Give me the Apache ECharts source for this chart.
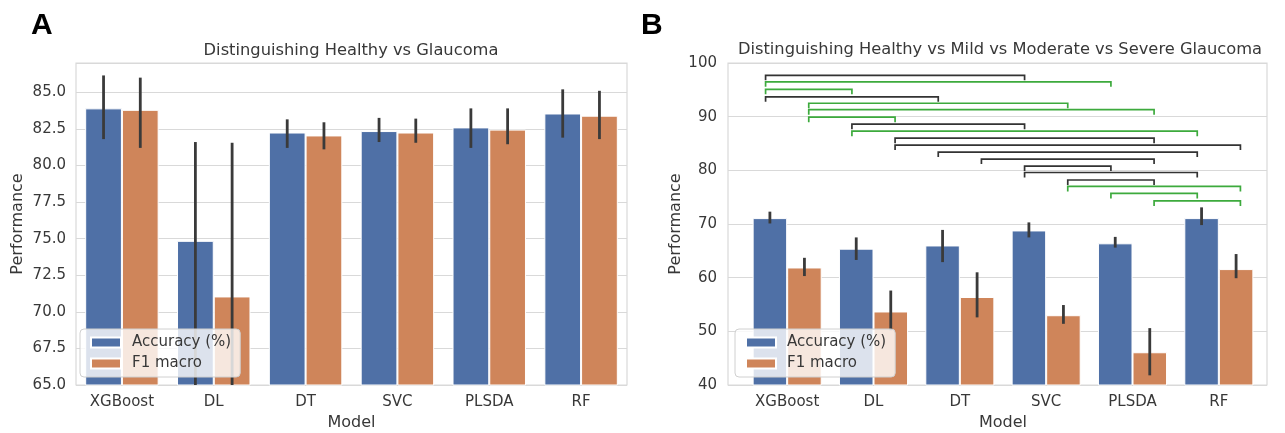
<!DOCTYPE html>
<html><head><meta charset="utf-8">
<script src="https://cdn.jsdelivr.net/npm/echarts@6/dist/echarts.min.js"></script>
<style>html,body{margin:0;padding:0;background:#fff}#c{width:1285px;height:433px}</style>
</head><body><div id="c"></div>
<script>
// ---------- data ----------
const models = ['XGBoost', 'DL', 'DT', 'SVC', 'PLSDA', 'RF'];
const seriesNames = ['Accuracy (%)', 'F1 macro'];

// Panel A: Healthy vs Glaucoma
const aAcc   = [83.9, 74.85, 82.25, 82.35, 82.6, 83.55];
const aAccLo = [81.8, 64.0, 81.2, 81.6, 81.2, 81.9];
const aAccHi = [86.15, 81.6, 83.15, 83.25, 83.9, 85.2];
const aF1    = [83.8, 71.05, 82.05, 82.25, 82.45, 83.4];
const aF1Lo  = [81.2, 64.0, 81.1, 81.55, 81.45, 81.8];
const aF1Hi  = [86.0, 81.55, 82.95, 83.2, 83.9, 85.1];
const aTicks = [65, 67.5, 70, 72.5, 75, 77.5, 80, 82.5, 85];

// Panel B: Healthy vs Mild vs Moderate vs Severe
const bAcc   = [71.1, 65.4, 66.0, 68.8, 66.4, 71.1];
const bAccLo = [70.1, 63.3, 62.9, 67.5, 65.6, 69.8];
const bAccHi = [72.3, 67.5, 68.9, 70.3, 67.6, 73.1];
const bF1    = [61.9, 53.7, 56.4, 53.0, 46.1, 61.6];
const bF1Lo  = [60.3, 50.2, 52.6, 51.4, 41.8, 59.9];
const bF1Hi  = [63.7, 57.6, 61.0, 54.9, 50.6, 64.4];
const bTicks = [40, 50, 60, 70, 80, 90, 100];

// Panel B significance brackets (ends: 2*modelIndex + 0 for Accuracy side, +1 for F1 side)
const bracketFrom  = [0, 0, 0, 0, 1, 1, 1, 2, 2, 3, 3, 4, 5, 6, 6, 7, 7, 8, 9];
const bracketTo    = [6, 8, 2, 4, 7, 9, 3, 6, 10, 9, 11, 10, 9, 8, 10, 9, 11, 10, 11];
const bracketLevel = [97.7, 96.5, 95.1, 93.7, 92.5, 91.3, 89.9, 88.6, 87.3, 86.0, 84.7, 83.4, 82.1, 80.8, 79.6, 78.2, 77.0, 75.7, 74.3];
const bracketKind  = ['k', 'g', 'g', 'k', 'g', 'g', 'g', 'k', 'g', 'k', 'k', 'k', 'k', 'k', 'k', 'k', 'g', 'g', 'g'];

// ---------- styles ----------
const FONT = 'DejaVu Sans';
const BLUE = '#4F70A6', ORANGE = '#CF855A';
const TXT = '#383838';
const GRIDC = '#d9d9d9';

function errRender(sign) {
  return function (params, api) {
    const i = api.value(0);
    const bw = api.size([1, 0])[0];
    const pLo = api.coord([i, api.value(1)]);
    const pHi = api.coord([i, api.value(2)]);
    const cs = params.coordSys;
    const x = pLo[0] + sign * 0.2 * bw;
    const yb = Math.min(pLo[1], cs.y + cs.height);
    return { type: 'line', shape: { x1: x, y1: yb, x2: x, y2: pHi[1] },
      style: { stroke: '#3a3a3a', lineWidth: 2.8 } };
  };
}
function errData(lo, hi) { return models.map((m, i) => [i, lo[i], hi[i]]); }

function bracketRender(params, api) {
  const j = params.dataIndex;
  const bw = api.size([1, 0])[0];
  const endX = k => api.coord([Math.floor(k / 2), 0])[0] + (k % 2 ? 0.25 : -0.25) * bw;
  const y = api.coord([0, bracketLevel[j]])[1];
  const x1 = endX(bracketFrom[j]), x2 = endX(bracketTo[j]);
  const tick = 5;
  return { type: 'polyline',
    shape: { points: [[x1, y + tick], [x1, y], [x2, y], [x2, y + tick]] },
    style: { fill: null, stroke: bracketKind[j] === 'g' ? '#3daa3d' : '#333', lineWidth: 1.7 } };
}

function tickFmt(ticks, dec) {
  return v => ticks.some(t => Math.abs(t - v) < 1e-6) ? v.toFixed(dec) : '';
}

const axisLabelStyle = { fontFamily: FONT, fontSize: 15, color: TXT };
const nameStyle = { fontFamily: FONT, fontSize: 16, color: TXT };

const legendBase = {
  orient: 'vertical', icon: 'rect', itemWidth: 30, itemHeight: 10, itemGap: 6,
  padding: [6, 9, 6, 10], backgroundColor: 'rgba(255,255,255,0.8)',
  borderColor: '#d0d0d0', borderWidth: 1, borderRadius: 4, selectedMode: false,
  textStyle: { fontFamily: FONT, fontSize: 15, color: TXT, padding: [0, 0, 0, 6] },
  data: seriesNames
};

const gridBase = { containLabel: false, outerBoundsMode: 'none' };

const option = {
  animation: false,
  backgroundColor: '#fff',
  grid: [
    Object.assign({ left: 76, right: 1285 - 627, top: 63, bottom: 48, show: true, borderColor: GRIDC, borderWidth: 1.2 }, gridBase),
    Object.assign({ left: 728, right: 18, top: 63, bottom: 48, show: true, borderColor: GRIDC, borderWidth: 1.2 }, gridBase),
    Object.assign({ left: 744, right: 23, top: 63, bottom: 48 }, gridBase)
  ],
  xAxis: [
    { type: 'category', gridIndex: 0, data: models, axisLine: { show: false }, axisTick: { show: false },
      axisLabel: Object.assign({ margin: 10 }, axisLabelStyle),
      name: 'Model', nameLocation: 'middle', nameGap: 30, nameTextStyle: nameStyle },
    { type: 'value', gridIndex: 1, min: 0, max: 1, show: false },
    { type: 'category', gridIndex: 2, data: models, axisLine: { show: false }, axisTick: { show: false },
      axisLabel: Object.assign({ margin: 10 }, axisLabelStyle),
      name: 'Model', nameLocation: 'middle', nameGap: 30, nameTextStyle: nameStyle }
  ],
  yAxis: [
    { type: 'value', gridIndex: 0, min: 65, max: 87, interval: 2.5,
      axisLine: { show: false }, axisTick: { show: false },
      axisLabel: Object.assign({ margin: 10, formatter: tickFmt(aTicks, 1) }, axisLabelStyle),
      splitLine: { lineStyle: { color: GRIDC, width: 1.2 } },
      name: 'Performance', nameLocation: 'middle', nameGap: 50, nameTextStyle: nameStyle },
    { type: 'value', gridIndex: 1, min: 40, max: 100, interval: 10,
      axisLine: { show: false }, axisTick: { show: false },
      axisLabel: Object.assign({ margin: 11, formatter: tickFmt(bTicks, 0) }, axisLabelStyle),
      splitLine: { lineStyle: { color: GRIDC, width: 1.2 } },
      name: 'Performance', nameLocation: 'middle', nameGap: 44, nameTextStyle: nameStyle },
    { type: 'value', gridIndex: 2, min: 40, max: 100, show: false }
  ],
  legend: [
    Object.assign({ left: 80, top: 329 }, legendBase),
    Object.assign({ left: 735, top: 329 }, legendBase)
  ],
  graphic: [
    { type: 'text', left: 31, top: 11, style: { text: 'A', font: 'bold 30px "Liberation Sans", Arial', fill: '#000' } },
    { type: 'text', left: 641, top: 11, style: { text: 'B', font: 'bold 30px "Liberation Sans", Arial', fill: '#000' } },
    { type: 'text', x: 351, y: 51, style: { text: 'Distinguishing Healthy vs Glaucoma', font: '16.3px "DejaVu Sans"', fill: TXT, textAlign: 'center', textVerticalAlign: 'middle' } },
    { type: 'text', x: 1000, y: 50, style: { text: 'Distinguishing Healthy vs Mild vs Moderate vs Severe Glaucoma', font: '16.3px "DejaVu Sans"', fill: TXT, textAlign: 'center', textVerticalAlign: 'middle' } }
  ],
  series: [
    { name: seriesNames[0], type: 'bar', xAxisIndex: 0, yAxisIndex: 0, data: aAcc, barGap: '0%', barCategoryGap: '20%',
      itemStyle: { color: BLUE, borderColor: '#fff', borderWidth: 1 } },
    { name: seriesNames[1], type: 'bar', xAxisIndex: 0, yAxisIndex: 0, data: aF1, barGap: '0%', barCategoryGap: '20%',
      itemStyle: { color: ORANGE, borderColor: '#fff', borderWidth: 1 } },
    { type: 'custom', xAxisIndex: 0, yAxisIndex: 0, renderItem: errRender(-1), data: errData(aAccLo, aAccHi), encode: { x: 0, y: [1, 2] }, z: 3 },
    { type: 'custom', xAxisIndex: 0, yAxisIndex: 0, renderItem: errRender(1), data: errData(aF1Lo, aF1Hi), encode: { x: 0, y: [1, 2] }, z: 3 },

    { name: seriesNames[0], type: 'bar', xAxisIndex: 2, yAxisIndex: 2, data: bAcc, barGap: '0%', barCategoryGap: '20%',
      itemStyle: { color: BLUE, borderColor: '#fff', borderWidth: 1 } },
    { name: seriesNames[1], type: 'bar', xAxisIndex: 2, yAxisIndex: 2, data: bF1, barGap: '0%', barCategoryGap: '20%',
      itemStyle: { color: ORANGE, borderColor: '#fff', borderWidth: 1 } },
    { type: 'custom', xAxisIndex: 2, yAxisIndex: 2, renderItem: errRender(-1), data: errData(bAccLo, bAccHi), encode: { x: 0, y: [1, 2] }, z: 3 },
    { type: 'custom', xAxisIndex: 2, yAxisIndex: 2, renderItem: errRender(1), data: errData(bF1Lo, bF1Hi), encode: { x: 0, y: [1, 2] }, z: 3 },
    { type: 'custom', xAxisIndex: 2, yAxisIndex: 2, renderItem: bracketRender,
      data: bracketLevel.map((lv, j) => [Math.floor(bracketFrom[j] / 2), lv]), encode: { x: 0, y: 1 }, z: 3 }
  ]
};

const chart = echarts.init(document.getElementById('c'), null, { renderer: 'canvas' });
chart.setOption(option);
</script>
</body></html>
